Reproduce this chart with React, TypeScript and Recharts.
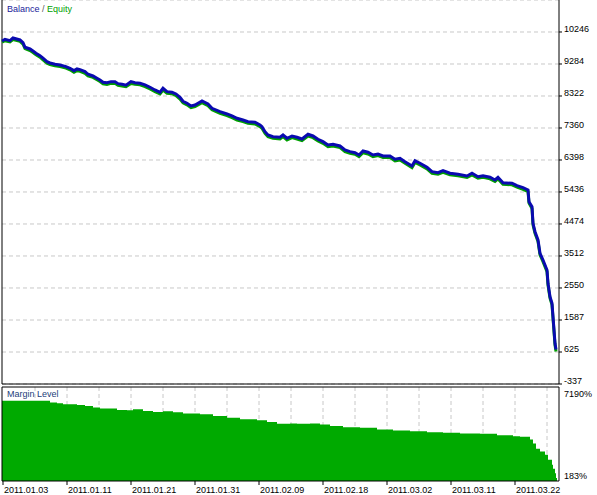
import React from 'react';
import { LineChart, Line, XAxis, YAxis, CartesianGrid, ReferenceLine, AreaChart, Area } from 'recharts';

// deal index along the tester's x axis
const dealIndex = [
  0, 3, 8, 11, 18, 21, 23, 28, 31, 34, 38, 41, 45, 48, 53, 58, 64, 68, 72, 75,
  78, 83, 86, 91, 95, 98, 101, 105, 109, 113, 116, 120, 124, 129, 133, 138, 143, 148, 153, 158,
  161, 165, 170, 174, 178, 181, 185, 189, 193, 200, 206, 210, 218, 225, 230, 235, 241, 246, 253, 258,
  260, 263, 266, 271, 278, 281, 285, 290, 295, 300, 306, 311, 316, 321, 326, 331, 338, 343, 348, 353,
  357, 361, 366, 371, 376, 381, 388, 393, 398, 403, 410, 413, 418, 425, 430, 436, 441, 448, 456, 465,
  470, 476, 481, 488, 493, 496, 501, 510, 515, 521, 526, 527, 530, 531, 533, 536, 538, 541, 545, 546,
  548, 550, 551, 552, 553, 554,
];

const balance = [
  9977, 10028, 9986, 10067, 10007, 9926, 9787, 9736, 9676, 9607, 9535, 9457, 9354, 9315, 9276, 9255, 9204, 9156, 9084, 9135,
  9114, 9054, 8975, 8924, 8855, 8804, 8735, 8723, 8753, 8753, 8693, 8675, 8645, 8753, 8723, 8705, 8654, 8585, 8503, 8434,
  8554, 8452, 8434, 8383, 8284, 8164, 8103, 8022, 8052, 8173, 8082, 7953, 7851, 7782, 7722, 7652, 7601, 7550, 7532, 7451,
  7400, 7249, 7150, 7099, 7081, 7150, 7051, 7120, 7081, 7030, 7171, 7120, 7021, 6949, 6849, 6870, 6819, 6699, 6648, 6618,
  6549, 6669, 6630, 6549, 6579, 6519, 6519, 6420, 6450, 6347, 6218, 6377, 6299, 6179, 6047, 6017, 6077, 5999, 5968, 5917,
  5999, 5896, 5926, 5878, 5797, 5878, 5716, 5698, 5626, 5565, 5496, 5145, 4994, 4495, 4242, 3993, 3593, 3391, 3091, 2691,
  2288, 2089, 1686, 1287, 887, 700,
];

const equity = [
  9940, 9985, 9950, 10020, 9965, 9880, 9745, 9690, 9630, 9565, 9490, 9410, 9305, 9270, 9230, 9205, 9160, 9110, 9035, 9080,
  9065, 9005, 8925, 8880, 8810, 8755, 8690, 8670, 8700, 8705, 8640, 8625, 8600, 8700, 8675, 8660, 8605, 8535, 8455, 8385,
  8500, 8400, 8390, 8335, 8230, 8115, 8055, 7970, 8000, 8120, 8030, 7905, 7800, 7735, 7670, 7600, 7555, 7500, 7480, 7400,
  7350, 7200, 7100, 7050, 7030, 7100, 7000, 7070, 7030, 6980, 7120, 7070, 6970, 6900, 6800, 6820, 6770, 6650, 6600, 6570,
  6500, 6615, 6580, 6500, 6530, 6470, 6470, 6370, 6400, 6300, 6170, 6325, 6250, 6130, 6000, 5970, 6025, 5950, 5920, 5870,
  5950, 5850, 5875, 5830, 5750, 5830, 5670, 5650, 5580, 5515, 5450, 5100, 4940, 4450, 4190, 3945, 3545, 3340, 3040, 2640,
  2240, 2040, 1640, 1240, 840, 640,
];

const marginIndex = [
  0, 48, 55, 61, 75, 83, 91, 98, 115, 125, 131, 141, 151, 161, 171, 181, 198, 211, 225, 238,
  255, 265, 275, 288, 295, 308, 318, 328, 341, 358, 375, 391, 408, 425, 441, 458, 478, 495, 511, 518,
  528, 531, 534, 538, 543, 546, 550, 551, 553, 554, 555,
];

const marginLevel = [
  6158, 6037, 5984, 5909, 5856, 5781, 5660, 5585, 5479, 5457, 5532, 5404, 5329, 5381, 5306, 5208, 5155, 5027, 4907, 4779,
  4703, 4575, 4455, 4477, 4455, 4477, 4402, 4274, 4199, 4153, 4025, 3950, 3897, 3822, 3777, 3724, 3701, 3596, 3521, 3475,
  3272, 2971, 2594, 2390, 2142, 1765, 1388, 1087, 763, 400, 250,
];

const balanceTicks = [-337, 625, 1587, 2550, 3512, 4474, 5436, 6398, 7360, 8322, 9284, 10246];
const balanceMax = 11208;
const marginTicks = [183, 7190];
const gridIndex = [33, 65, 97, 129, 161, 193, 225, 257, 289, 321, 353, 385, 417, 449, 481, 513, 545];
const dateTickIndex = [1, 65, 129, 193, 257, 321, 385, 449, 513];
const dateLabels = [
  '2011.01.03', '2011.01.11', '2011.01.21', '2011.01.31', '2011.02.09',
  '2011.02.18', '2011.03.02', '2011.03.11', '2011.03.22',
];
const indexMax = 557;

const FONT = '"Liberation Sans", Arial, sans-serif';
const GRID = '#c8c8c8';

const topData = dealIndex.map((x, i) => ({ x, balance: balance[i], equity: equity[i] }));
const bottomData = marginIndex.map((x, i) => ({ x, level: marginLevel[i] }));

const BalanceTick = (props: any) => {
  const { x, y, payload } = props;
  return (
    <text x={x} y={y} fontSize={9} fontFamily={FONT} fill="#000" textAnchor="start">
      {payload.value}
    </text>
  );
};

const MarginTick = (props: any) => {
  const { x, y, payload } = props;
  const isTop = payload.value === marginTicks[1];
  return (
    <text x={x} y={y + (isTop ? 10 : -2)} fontSize={9} fontFamily={FONT} fill="#000" textAnchor="start">
      {payload.value + '%'}
    </text>
  );
};

const DateTick = (props: any) => {
  const { x, y, payload } = props;
  const idx = dateTickIndex.indexOf(payload.value);
  return (
    <text x={x + 1} y={y + 6} fontSize={9} fontFamily={FONT} fill="#000" textAnchor="start">
      {dateLabels[idx]}
    </text>
  );
};

export default function App() {
  return (
    <div style={{ position: 'absolute', left: 0, top: 0, width: 597, height: 495, background: '#fff', fontFamily: FONT }}>
      <div style={{ position: 'absolute', left: 0, top: 0 }}>
        <LineChart width={597} height={390} data={topData} margin={{ top: 0, right: 0, bottom: 0, left: 2 }}>
          <CartesianGrid stroke={GRID} strokeDasharray="4 3" verticalValues={gridIndex} />
          <XAxis
            dataKey="x"
            type="number"
            domain={[0, indexMax]}
            height={6}
            tick={false}
            tickLine={false}
            ticks={gridIndex}
            axisLine={{ stroke: '#000' }}
          />
          <YAxis
            orientation="right"
            width={38}
            type="number"
            domain={[balanceTicks[0], balanceMax]}
            ticks={balanceTicks}
            interval={0}
            tickSize={3}
            tickMargin={2}
            tickLine={{ stroke: '#000' }}
            axisLine={{ stroke: '#000' }}
            tick={<BalanceTick />}
          />
          <ReferenceLine x={0} stroke="#000" />
          <Line dataKey="equity" stroke="#00a000" strokeWidth={3} dot={false} type="linear" isAnimationActive={false} />
          <Line dataKey="balance" stroke="#0a0ab0" strokeWidth={3} dot={false} type="linear" isAnimationActive={false} />
        </LineChart>
      </div>
      <div style={{ position: 'absolute', left: 0, top: 385 }}>
        <AreaChart width={597} height={110} data={bottomData} margin={{ top: 2, right: 0, bottom: 0, left: 2 }}>
          <CartesianGrid stroke={GRID} strokeDasharray="4 3" horizontal={false} verticalValues={gridIndex} />
          <XAxis
            dataKey="x"
            type="number"
            domain={[0, indexMax]}
            height={14}
            ticks={dateTickIndex}
            interval={0}
            tickSize={4}
            tickMargin={2}
            tickLine={{ stroke: '#000' }}
            axisLine={{ stroke: '#000' }}
            tick={<DateTick />}
          />
          <YAxis
            orientation="right"
            width={38}
            type="number"
            domain={[marginTicks[0], marginTicks[1]]}
            ticks={marginTicks}
            interval={0}
            tickSize={3}
            tickMargin={2}
            tickLine={false}
            axisLine={{ stroke: '#000' }}
            tick={<MarginTick />}
          />
          <Area
            dataKey="level"
            type="stepAfter"
            fill="#00aa00"
            fillOpacity={1}
            stroke="none"
            isAnimationActive={false}
          />
          <ReferenceLine x={0} stroke="#000" />
          <ReferenceLine y={marginTicks[1]} stroke="#000" />
        </AreaChart>
      </div>
      <div style={{ position: 'absolute', left: 7, top: 4, fontSize: 9, lineHeight: '11px', whiteSpace: 'nowrap' }}>
        <span style={{ color: '#1a1a9a' }}>Balance</span>
        <span style={{ color: '#555' }}> / </span>
        <span style={{ color: '#00a000' }}>Equity</span>
      </div>
      <div style={{ position: 'absolute', left: 7, top: 389, fontSize: 9, lineHeight: '11px', whiteSpace: 'nowrap', color: '#23407a' }}>
        Margin Level
      </div>
    </div>
  );
}
